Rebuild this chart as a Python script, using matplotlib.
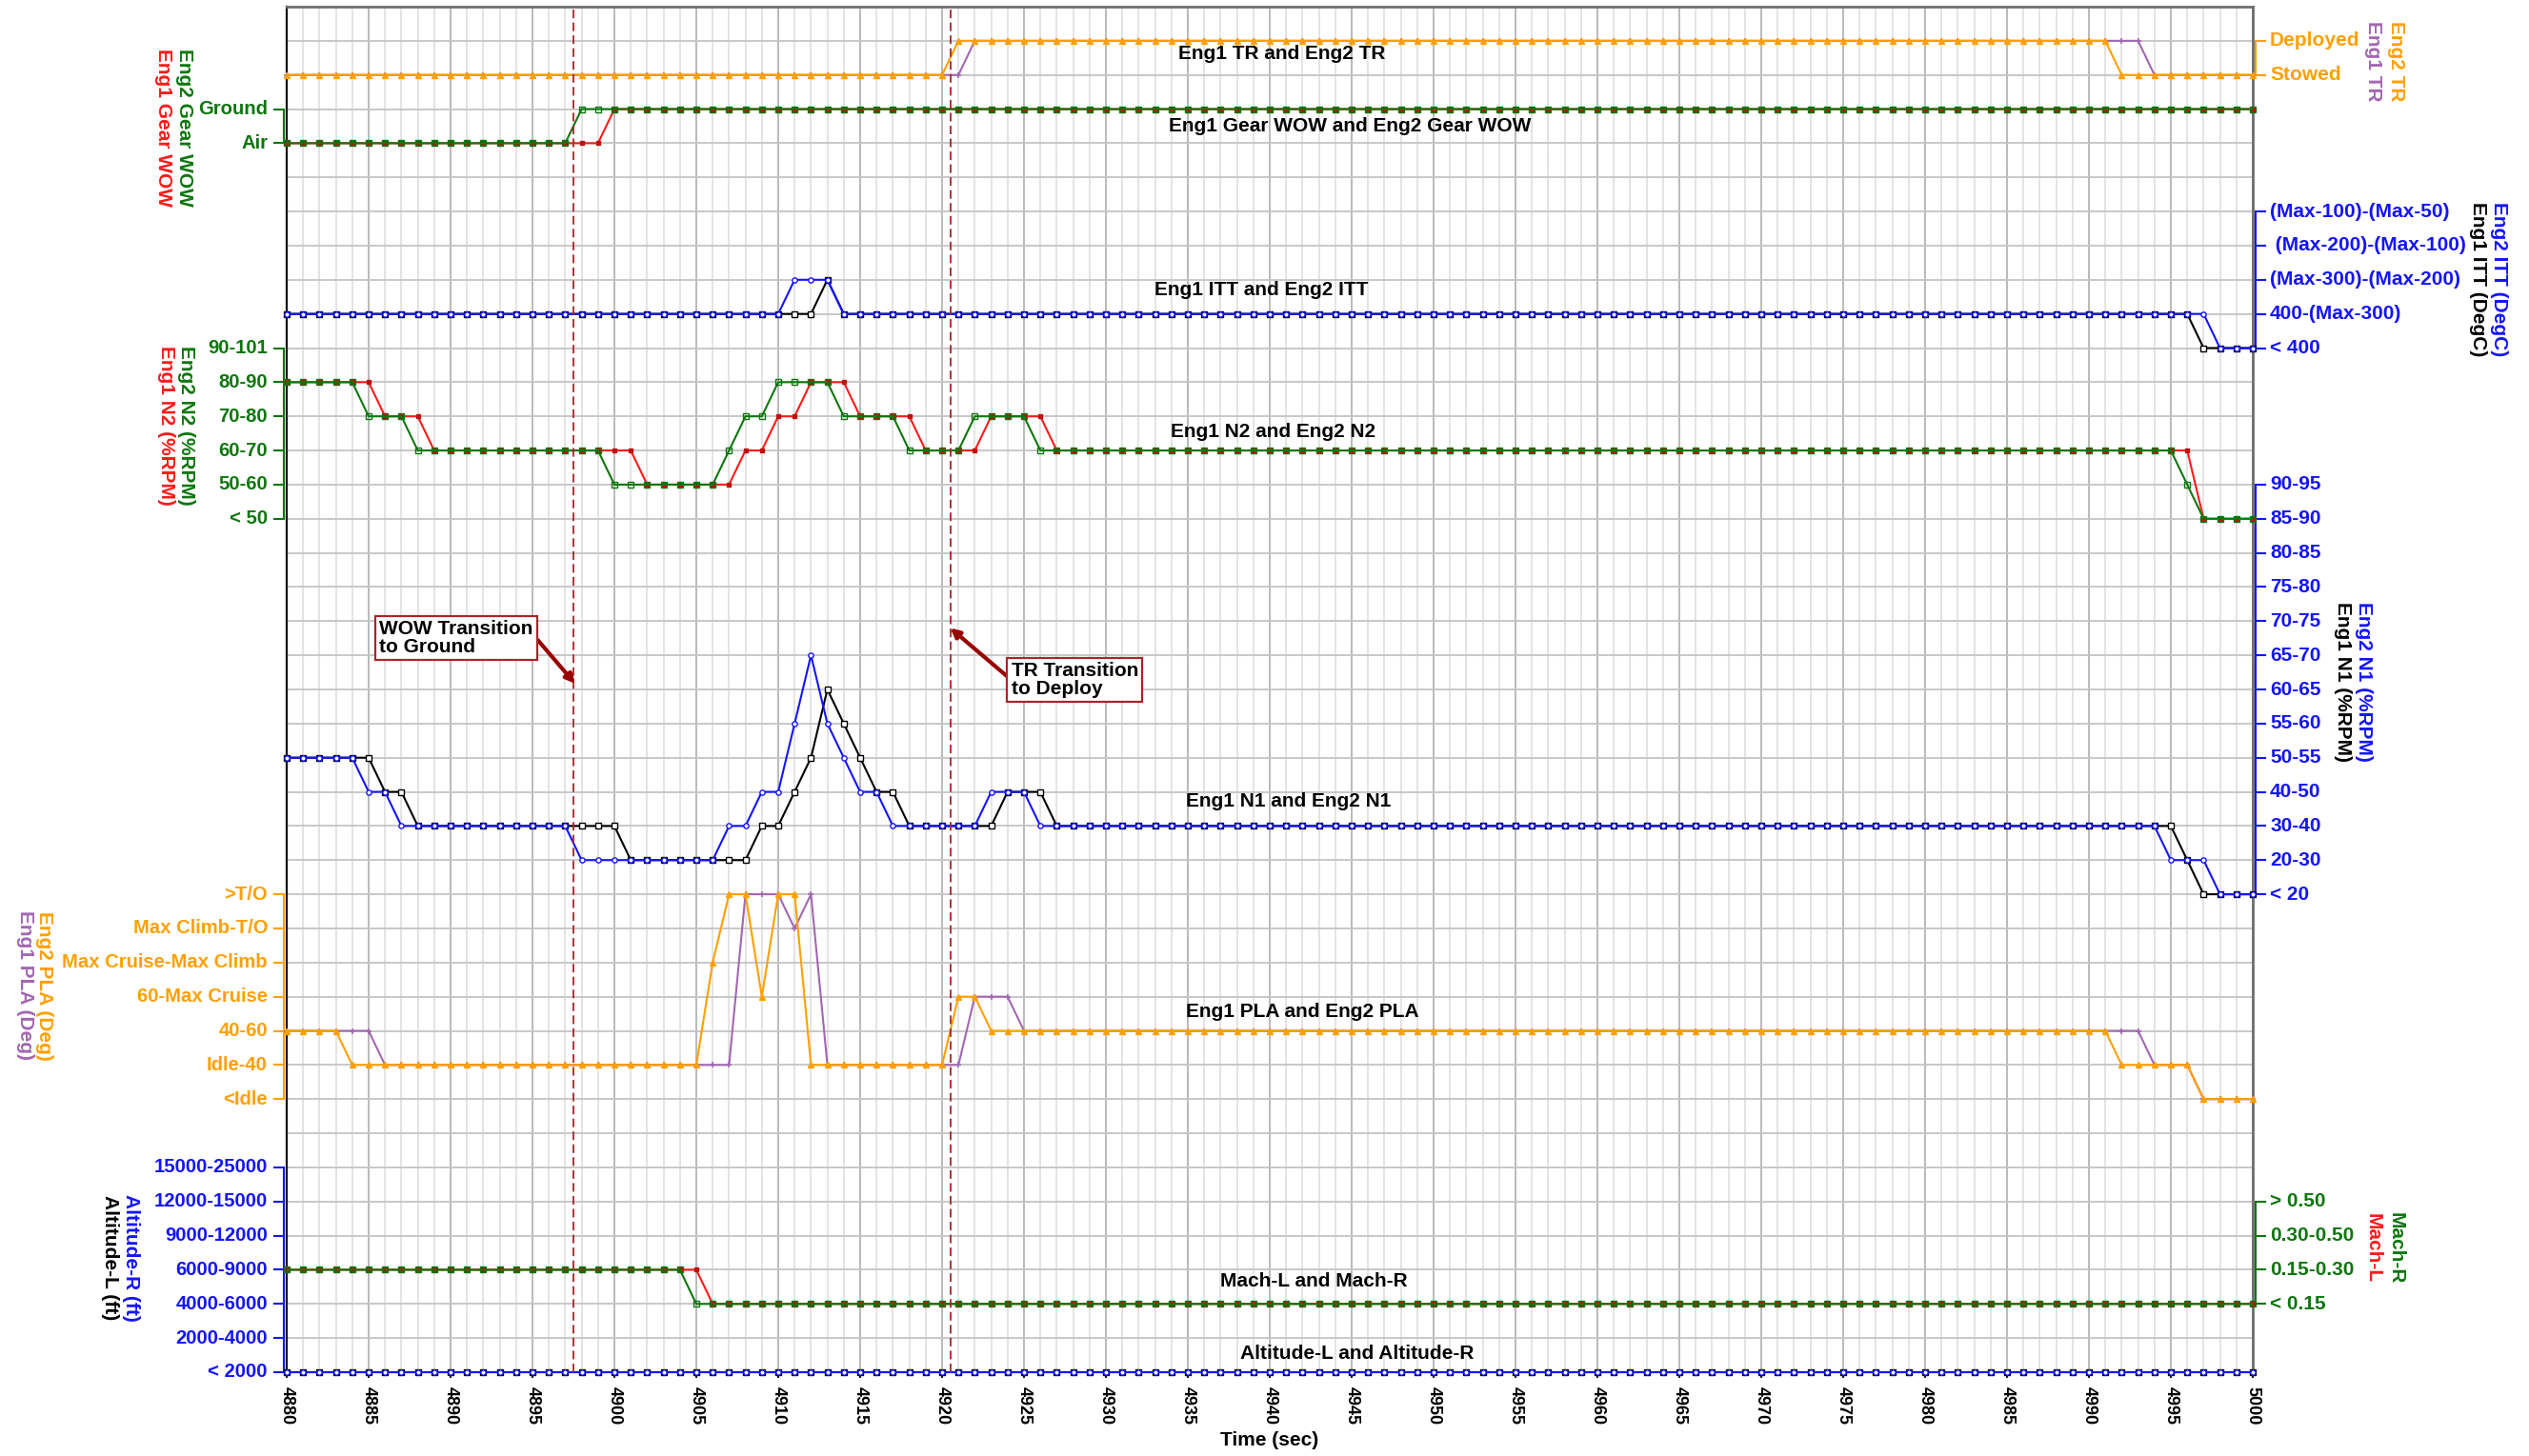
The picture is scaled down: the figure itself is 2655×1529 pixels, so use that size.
import matplotlib
matplotlib.use("Agg")
import matplotlib.pyplot as plt
from matplotlib.transforms import blended_transform_factory
import numpy as np

plt.rcParams["font.family"] = ["Liberation Sans", "DejaVu Sans"]
plt.rcParams["font.weight"] = "bold"

# ---------------------------------------------------------------- data
time_start, time_end = 4880, 5000
time_sec = np.arange(time_start, time_end + 1)

# category labels of each recorded parameter, lowest band first
tr_levels = ["Stowed", "Deployed"]
wow_levels = ["Air", "Ground"]
itt_levels = ["< 400", "400-(Max-300)", "(Max-300)-(Max-200)",
              " (Max-200)-(Max-100)", "(Max-100)-(Max-50)"]
n2_levels = ["< 50", "50-60", "60-70", "70-80", "80-90", "90-101"]
n1_levels = ["< 20", "20-30", "30-40", "40-50", "50-55", "55-60", "60-65",
             "65-70", "70-75", "75-80", "80-85", "85-90", "90-95"]
pla_levels = ["<Idle", "Idle-40", "40-60", "60-Max Cruise",
              "Max Cruise-Max Climb", "Max Climb-T/O", ">T/O"]
mach_levels = ["< 0.15", "0.15-0.30", "0.30-0.50", "> 0.50"]
alt_levels = ["< 2000", "2000-4000", "4000-6000", "6000-9000",
              "9000-12000", "12000-15000", "15000-25000"]

# recorded band index, one sample per second, stored as (band, samples) runs
eng1_tr = [(0, 42), (1, 72), (0, 7)]
eng2_tr = [(0, 41), (1, 71), (0, 9)]
eng1_wow = [(0, 20), (1, 101)]
eng2_wow = [(0, 18), (1, 103)]
eng1_itt = [(1, 33), (2, 1), (1, 83), (0, 4)]
eng2_itt = [(1, 31), (2, 3), (1, 84), (0, 3)]
eng1_n2 = [(4, 6), (3, 3), (2, 13), (1, 6), (2, 2), (3, 2), (4, 3), (3, 4),
           (2, 4), (3, 4), (2, 70), (0, 4)]
eng2_n2 = [(4, 5), (3, 3), (2, 12), (1, 7), (2, 1), (3, 2), (4, 4), (3, 4),
           (2, 4), (3, 4), (2, 70), (1, 1), (0, 4)]
eng1_n1 = [(4, 6), (3, 2), (2, 13), (1, 8), (2, 2), (3, 1), (4, 1), (6, 1),
           (5, 1), (4, 1), (3, 2), (2, 6), (3, 3), (2, 69), (1, 1), (0, 4)]
eng2_n1 = [(4, 5), (3, 2), (2, 11), (1, 9), (2, 2), (3, 2), (5, 1), (7, 1),
           (5, 1), (4, 1), (3, 2), (2, 6), (3, 3), (2, 69), (1, 3), (0, 3)]
eng1_pla = [(2, 6), (1, 22), (6, 3), (5, 1), (6, 1), (1, 9), (3, 3), (2, 69),
            (1, 3), (0, 4)]
eng2_pla = [(2, 4), (1, 22), (4, 1), (6, 2), (3, 1), (6, 2), (1, 9), (3, 2),
            (2, 69), (1, 5), (0, 4)]
mach_l = [(1, 26), (0, 95)]
mach_r = [(1, 25), (0, 96)]
alt_l = [(0, 121)]
alt_r = [(0, 121)]

# event markers (seconds)
event_times = [4897.5, 4920.5]
event_notes = ["WOW Transition\nto Ground", "TR Transition\nto Deploy"]


def expand(runs):
    return np.concatenate([np.full(n, v) for v, n in runs])


# ---------------------------------------------------------------- styling
ORANGE = "#FFA000"
PURPLE = "#A267B2"
GREEN = "#0E760E"
RED = "#FF1A1A"
BLUE = "#1414FF"
BLACK = "#000000"
EVENT = "#A3262A"
FS = 15

styles = {
    "orange": dict(color=ORANGE, marker="^", ms=4.0, mfc=ORANGE, mec=ORANGE),
    "purple": dict(color=PURPLE, marker="+", ms=5.0, mew=1.2),
    "green": dict(color=GREEN, marker="s", ms=4.2, mfc="none", mec=GREEN, mew=1.0),
    "red": dict(color=RED, marker="s", ms=3.0, mfc="#C01010", mec="#C01010"),
    "blue": dict(color=BLUE, marker="o", ms=3.8, mfc="white", mec=BLUE, mew=1.0),
    "black": dict(color=BLACK, marker="s", ms=3.8, mfc="white", mec=BLACK, mew=1.0),
}

W, H = 2655, 1529
fig = plt.figure(figsize=(W / 100, H / 100), dpi=100)
ax_l, ax_r, ax_b, ax_t = 301, 2365, 1441, 7
ax = fig.add_axes([ax_l / W, (H - ax_b) / H, (ax_r - ax_l) / W, (ax_b - ax_t) / H])

ax.set_xlim(time_start, time_end)
ax.set_ylim(0, 40)

# grid: one row per band step, a column per second, heavier every 5 s
ax.set_yticks(np.arange(0, 41))
ax.set_xticks(np.arange(time_start, time_end + 1, 5))
ax.set_xticks(np.arange(time_start, time_end + 1), minor=True)
ax.grid(which="minor", axis="x", color="#E2E2E2", lw=1.3)
ax.grid(which="major", axis="x", color="#B4B4B4", lw=1.3)
ax.grid(which="major", axis="y", color="#C4C4C4", lw=1.3)
ax.set_axisbelow(True)
ax.tick_params(axis="y", left=False, labelleft=False)
ax.tick_params(axis="x", which="minor", length=0)
ax.tick_params(axis="x", which="major", length=4, width=1.3, color=BLACK,
               direction="out", pad=7, labelsize=13, labelrotation=-90)
for lab in ax.get_xticklabels():
    lab.set_fontweight("bold")

ax.spines["bottom"].set_visible(False)
ax.spines["left"].set_color("#111111")
ax.spines["left"].set_linewidth(1.6)
for s in ("top", "right"):
    ax.spines[s].set_color("#6E6E6E")
    ax.spines[s].set_linewidth(2.0)

ax.set_xlabel("Time (sec)", fontsize=FS, fontweight="bold")
ax.xaxis.set_label_coords(0.5, -(1513 - ax_b) / (ax_b - ax_t))
ax.xaxis.label.set_va("center")

# band offsets on the shared vertical scale
base = {"tr": 38, "wow": 36, "itt": 30, "n2": 25, "n1": 14, "pla": 8,
        "mach": 2, "alt": 0}

series = [
    (eng1_tr, "tr", "purple"), (eng2_tr, "tr", "orange"),
    (eng1_wow, "wow", "red"), (eng2_wow, "wow", "green"),
    (eng1_itt, "itt", "black"), (eng2_itt, "itt", "blue"),
    (eng1_n2, "n2", "red"), (eng2_n2, "n2", "green"),
    (eng1_n1, "n1", "black"), (eng2_n1, "n1", "blue"),
    (eng1_pla, "pla", "purple"), (eng2_pla, "pla", "orange"),
    (mach_l, "mach", "red"), (mach_r, "mach", "green"),
    (alt_l, "alt", "black"), (alt_r, "alt", "blue"),
]
for runs, band, sty in series:
    ax.plot(time_sec, base[band] + expand(runs), lw=1.5, zorder=3,
            clip_on=False, **styles[sty])

# band titles inside the plot
titles = [
    ("Eng1 TR and Eng2 TR", 4934.4, 38.62),
    ("Eng1 Gear WOW and Eng2 Gear WOW", 4933.85, 36.5),
    ("Eng1 ITT and Eng2 ITT", 4932.96, 31.7),
    ("Eng1 N2 and Eng2 N2", 4933.95, 27.55),
    ("Eng1 N1 and Eng2 N1", 4934.9, 16.72),
    ("Eng1 PLA and Eng2 PLA", 4934.9, 10.55),
    ("Mach-L and Mach-R", 4937.0, 2.65),
    ("Altitude-L and Altitude-R", 4938.2, 0.55),
]
for txt, tx, ty in titles:
    ax.text(tx, ty, txt, ha="left", va="center", fontsize=FS,
            fontweight="bold", color=BLACK, zorder=4)

# category scales beside the plot
trans = blended_transform_factory(ax.transAxes, ax.transData)
px = 1.0 / (ax_r - ax_l)


def draw_scale(levels, band, side, color, size):
    b = base[band]
    if side == "left":
        xs, xt, xl, ha = -3 * px, -13 * px, -20 * px, "right"
    else:
        xs, xt, xl, ha = 1 + 3 * px, 1 + 13 * px, 1 + 18 * px, "left"
    ax.plot([xs, xs], [b, b + len(levels) - 1], transform=trans, color=color,
            lw=1.5, clip_on=False)
    for i, lab in enumerate(levels):
        ax.plot([xt, xs], [b + i, b + i], transform=trans, color=color,
                lw=1.5, clip_on=False)
        ax.text(xl, b + i, lab, transform=trans, ha=ha, va="center",
                fontsize=size, fontweight="bold", color=color)


draw_scale(wow_levels, "wow", "left", GREEN, 14.6)
draw_scale(n2_levels, "n2", "left", GREEN, 14.6)
draw_scale(pla_levels, "pla", "left", ORANGE, 14.6)
draw_scale(alt_levels, "alt", "left", BLUE, 14.6)
draw_scale(tr_levels, "tr", "right", ORANGE, FS)
draw_scale(itt_levels, "itt", "right", BLUE, FS)
draw_scale(n1_levels, "n1", "right", BLUE, FS)
draw_scale(mach_levels, "mach", "right", GREEN, FS)

# parameter names, written downwards
names = [
    ("Eng2 Gear WOW", GREEN, 194, 134), ("Eng1 Gear WOW", RED, 172, 134),
    ("Eng2 N2 (%RPM)", GREEN, 195, 447), ("Eng1 N2 (%RPM)", RED, 174, 447),
    ("Eng2 PLA (Deg)", ORANGE, 46, 1035), ("Eng1 PLA (Deg)", PURPLE, 26, 1035),
    ("Altitude-R (ft)", BLUE, 137, 1321), ("Altitude-L (ft)", BLACK, 115, 1321),
    ("Eng2 TR", ORANGE, 2515, 64), ("Eng1 TR", PURPLE, 2492, 64),
    ("Eng2 ITT (DegC)", BLUE, 2624, 293), ("Eng1 ITT (DegC)", BLACK, 2602, 293),
    ("Eng2 N1 (%RPM)", BLUE, 2482, 716), ("Eng1 N1 (%RPM)", BLACK, 2459, 716),
    ("Mach-R", GREEN, 2515, 1311), ("Mach-L", RED, 2491, 1311),
]
for txt, col, x, y in names:
    fig.text(x / W, 1 - y / H, txt, rotation=-90, ha="center", va="center",
             fontsize=FS, fontweight="bold", color=col)

# event markers with callouts
for t in event_times:
    ax.axvline(t, color=EVENT, lw=1.3, ls=(0, (5, 2.5)), zorder=5)

callouts = [
    (event_notes[0], (4897.6, 20.17), (4890.35, 21.5), (1.0, 0.6)),
    (event_notes[1], (4920.5, 21.8), (4928.1, 20.28), (0.0, 0.5)),
]
for txt, tip, pos, rel in callouts:
    ax.annotate(txt, xy=tip, xytext=pos, ha="center", va="center",
                multialignment="left", fontsize=FS, fontweight="bold",
                color=BLACK, linespacing=1.0, zorder=6,
                bbox=dict(boxstyle="square,pad=0.2", fc="white", ec="#A8262A",
                          lw=1.6),
                arrowprops=dict(arrowstyle="-|>", color="#990000", lw=3,
                                mutation_scale=14, relpos=rel, shrinkA=0,
                                shrinkB=0))

fig.savefig("out.png", dpi=100)
